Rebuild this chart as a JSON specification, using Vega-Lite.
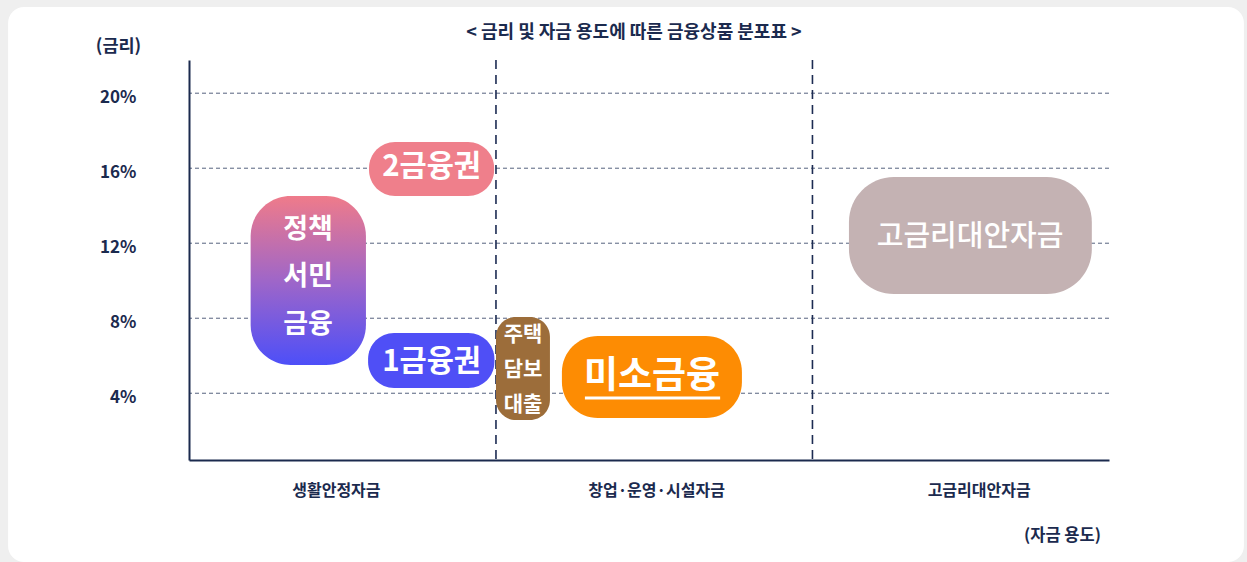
{
  "$schema": "https://vega.github.io/schema/vega-lite/v6.json",
  "width": 920,
  "height": 400,
  "autosize": "none",
  "padding": {"left": 189, "top": 60, "right": 138, "bottom": 102},
  "background": "#efefef",
  "config": {"font": "Noto Sans CJK KR", "view": {"stroke": null}},
  "data": {
    "values": [
      {"product": "2금융권", "label": "2금융권", "xStart": 5.87, "xEnd": 9.95, "rateLow": 14.52, "rateHigh": 17.4, "labelX": 7.91, "labelRate": 16.07},
      {"product": "정책서민금융", "label": "정책\n서민\n금융", "xStart": 2.01, "xEnd": 5.77, "rateLow": 5.51, "rateHigh": 14.52, "labelX": 3.88, "labelRate": 12.71},
      {"product": "1금융권", "label": "1금융권", "xStart": 5.84, "xEnd": 9.96, "rateLow": 4.28, "rateHigh": 7.21, "labelX": 7.91, "labelRate": 5.68},
      {"product": "주택담보대출", "label": "주택\n담보\n대출", "xStart": 10.01, "xEnd": 11.77, "rateLow": 2.57, "rateHigh": 8.07, "labelX": 10.89, "labelRate": 7.11},
      {"product": "미소금융", "label": "미소금융", "xStart": 12.16, "xEnd": 18.03, "rateLow": 2.68, "rateHigh": 7.05, "labelX": 15.1, "labelRate": 4.87},
      {"product": "고금리대안자금", "label": "고금리대안자금", "xStart": 21.52, "xEnd": 29.44, "rateLow": 9.29, "rateHigh": 15.53, "labelX": 25.47, "labelRate": 12.33}
    ]
  },
  "layer": [
    {
      "data": {"values": [{}]},
      "mark": {"type": "rect", "fill": "#ffffff", "cornerRadius": 16},
      "encoding": {
        "x": {
          "datum": -5.9, "type": "quantitative",
          "scale": {"domain": [0, 30], "nice": false, "zero": false},
          "axis": {
            "values": [4.79, 15.23, 25.75],
            "labelExpr": "datum.value < 10 ? '생활안정자금' : datum.value < 20 ? '창업·운영·시설자금' : '고금리대안자금'",
            "ticks": false, "tickSize": 0, "grid": false,
            "domainColor": "#1b2a4e", "domainWidth": 2,
            "labelFontSize": 16, "labelFontWeight": "bold", "labelColor": "#1b2a4e",
            "labelPadding": 30, "labelBaseline": "middle", "labelFlush": false, "labelOverlap": false,
            "zindex": 1,
            "title": "(자금 용도)", "titleX": 873, "titleY": 75, "titleAlign": "center", "titleBaseline": "middle",
            "titleFontSize": 16.5, "titleFontWeight": "bold", "titleColor": "#1b2a4e"
          }
        },
        "x2": {"datum": 34.4},
        "y": {
          "datum": 24.6, "type": "quantitative",
          "scale": {"domain": [0.44, 21.77], "nice": false, "zero": false},
          "axis": {
            "values": [4, 8, 12, 16, 20],
            "labelExpr": "datum.value + '%'",
            "ticks": false, "tickSize": 0, "grid": false,
            "domainColor": "#1b2a4e", "domainWidth": 2,
            "labelFontSize": 17, "labelFontWeight": "bold", "labelColor": "#1b2a4e",
            "labelPadding": 53, "labelOffset": 4, "labelFlush": false,
            "zindex": 1,
            "title": "(금리)", "titleAngle": 0, "titleX": -71, "titleY": -14, "titleAlign": "center", "titleBaseline": "middle",
            "titleFontSize": 17.5, "titleFontWeight": "bold", "titleColor": "#1b2a4e"
          }
        },
        "y2": {"datum": -5.0}
      }
    },
    {
      "data": {"values": [{"rate": 4}, {"rate": 8}, {"rate": 12}, {"rate": 16}, {"rate": 20}]},
      "mark": {"type": "rule", "color": "#56627e", "strokeWidth": 1, "strokeDash": [4, 3]},
      "encoding": {"y": {"field": "rate", "type": "quantitative"}}
    },
    {
      "data": {"values": [{"boundary": 10.01}, {"boundary": 20.33}]},
      "mark": {"type": "rule", "color": "#1c2b52", "strokeWidth": 1.6, "strokeDash": [9, 6]},
      "encoding": {"x": {"field": "boundary", "type": "quantitative"}}
    },
    {
      "transform": [{"filter": "datum.product == '2금융권' || datum.product == '1금융권'"}],
      "mark": {"type": "rect", "cornerRadius": 26},
      "encoding": {
        "x": {"field": "xStart", "type": "quantitative"},
        "x2": {"field": "xEnd"},
        "y": {"field": "rateHigh", "type": "quantitative"},
        "y2": {"field": "rateLow"},
        "color": {"field": "product", "type": "nominal", "scale": {"domain": ["2금융권", "1금융권"], "range": ["#ef7f8b", "#4f4ff6"]}, "legend": null}
      }
    },
    {
      "transform": [{"filter": "datum.product == '정책서민금융'"}],
      "mark": {
        "type": "rect", "cornerRadius": 40,
        "color": {"gradient": "linear", "x1": 0, "y1": 0, "x2": 0, "y2": 1,
          "stops": [{"offset": 0, "color": "#ef7b8a"}, {"offset": 0.5, "color": "#9f66c8"}, {"offset": 1, "color": "#4d4ff8"}]}
      },
      "encoding": {
        "x": {"field": "xStart", "type": "quantitative"},
        "x2": {"field": "xEnd"},
        "y": {"field": "rateHigh", "type": "quantitative"},
        "y2": {"field": "rateLow"}
      }
    },
    {
      "transform": [{"filter": "datum.product == '주택담보대출'"}],
      "mark": {"type": "rect", "cornerRadius": 20, "color": "#9c6d3a"},
      "encoding": {
        "x": {"field": "xStart", "type": "quantitative"},
        "x2": {"field": "xEnd"},
        "y": {"field": "rateHigh", "type": "quantitative"},
        "y2": {"field": "rateLow"}
      }
    },
    {
      "transform": [{"filter": "datum.product == '미소금융'"}],
      "mark": {"type": "rect", "cornerRadius": 36, "color": "#fd8c03"},
      "encoding": {
        "x": {"field": "xStart", "type": "quantitative"},
        "x2": {"field": "xEnd"},
        "y": {"field": "rateHigh", "type": "quantitative"},
        "y2": {"field": "rateLow"}
      }
    },
    {
      "transform": [{"filter": "datum.product == '고금리대안자금'"}],
      "mark": {"type": "rect", "cornerRadius": 45, "color": "#c4b2b3"},
      "encoding": {
        "x": {"field": "xStart", "type": "quantitative"},
        "x2": {"field": "xEnd"},
        "y": {"field": "rateHigh", "type": "quantitative"},
        "y2": {"field": "rateLow"}
      }
    },
    {
      "transform": [{"filter": "datum.product == '2금융권' || datum.product == '1금융권'"}],
      "mark": {"type": "text", "color": "#ffffff", "fontSize": 29.5, "fontWeight": "bold", "baseline": "middle", "align": "center"},
      "encoding": {
        "x": {"field": "labelX", "type": "quantitative"},
        "y": {"field": "labelRate", "type": "quantitative"},
        "text": {"field": "label"}
      }
    },
    {
      "transform": [{"filter": "datum.product == '정책서민금융'"}],
      "mark": {"type": "text", "color": "#ffffff", "fontSize": 27, "fontWeight": "bold", "baseline": "middle", "align": "center", "lineBreak": "\n", "lineHeight": 47.5},
      "encoding": {
        "x": {"field": "labelX", "type": "quantitative"},
        "y": {"field": "labelRate", "type": "quantitative"},
        "text": {"field": "label"}
      }
    },
    {
      "transform": [{"filter": "datum.product == '주택담보대출'"}],
      "mark": {"type": "text", "color": "#ffffff", "fontSize": 21, "fontWeight": "bold", "baseline": "middle", "align": "center", "lineBreak": "\n", "lineHeight": 35},
      "encoding": {
        "x": {"field": "labelX", "type": "quantitative"},
        "y": {"field": "labelRate", "type": "quantitative"},
        "text": {"field": "label"}
      }
    },
    {
      "transform": [{"filter": "datum.product == '미소금융'"}],
      "mark": {"type": "text", "color": "#ffffff", "fontSize": 37, "fontWeight": "bold", "baseline": "middle", "align": "center"},
      "encoding": {
        "x": {"field": "labelX", "type": "quantitative"},
        "y": {"field": "labelRate", "type": "quantitative"},
        "text": {"field": "label"}
      }
    },
    {
      "transform": [{"filter": "datum.product == '미소금융'"}],
      "mark": {"type": "rule", "color": "#ffffff", "strokeWidth": 3},
      "encoding": {
        "x": {"datum": 12.91},
        "x2": {"datum": 17.32},
        "y": {"datum": 3.75}
      }
    },
    {
      "transform": [{"filter": "datum.product == '고금리대안자금'"}],
      "mark": {"type": "text", "color": "#ffffff", "fontSize": 29, "fontWeight": 500, "baseline": "middle", "align": "center"},
      "encoding": {
        "x": {"field": "labelX", "type": "quantitative"},
        "y": {"field": "labelRate", "type": "quantitative"},
        "text": {"field": "label"}
      }
    },
    {
      "data": {"values": [{}]},
      "mark": {"type": "text", "color": "#1b2a4e", "fontSize": 18, "fontWeight": "bold", "baseline": "middle", "align": "center"},
      "encoding": {
        "x": {"datum": 14.51},
        "y": {"datum": 23.21},
        "text": {"value": "< 금리 및 자금 용도에 따른 금융상품 분포표 >"}
      }
    }
  ]
}
